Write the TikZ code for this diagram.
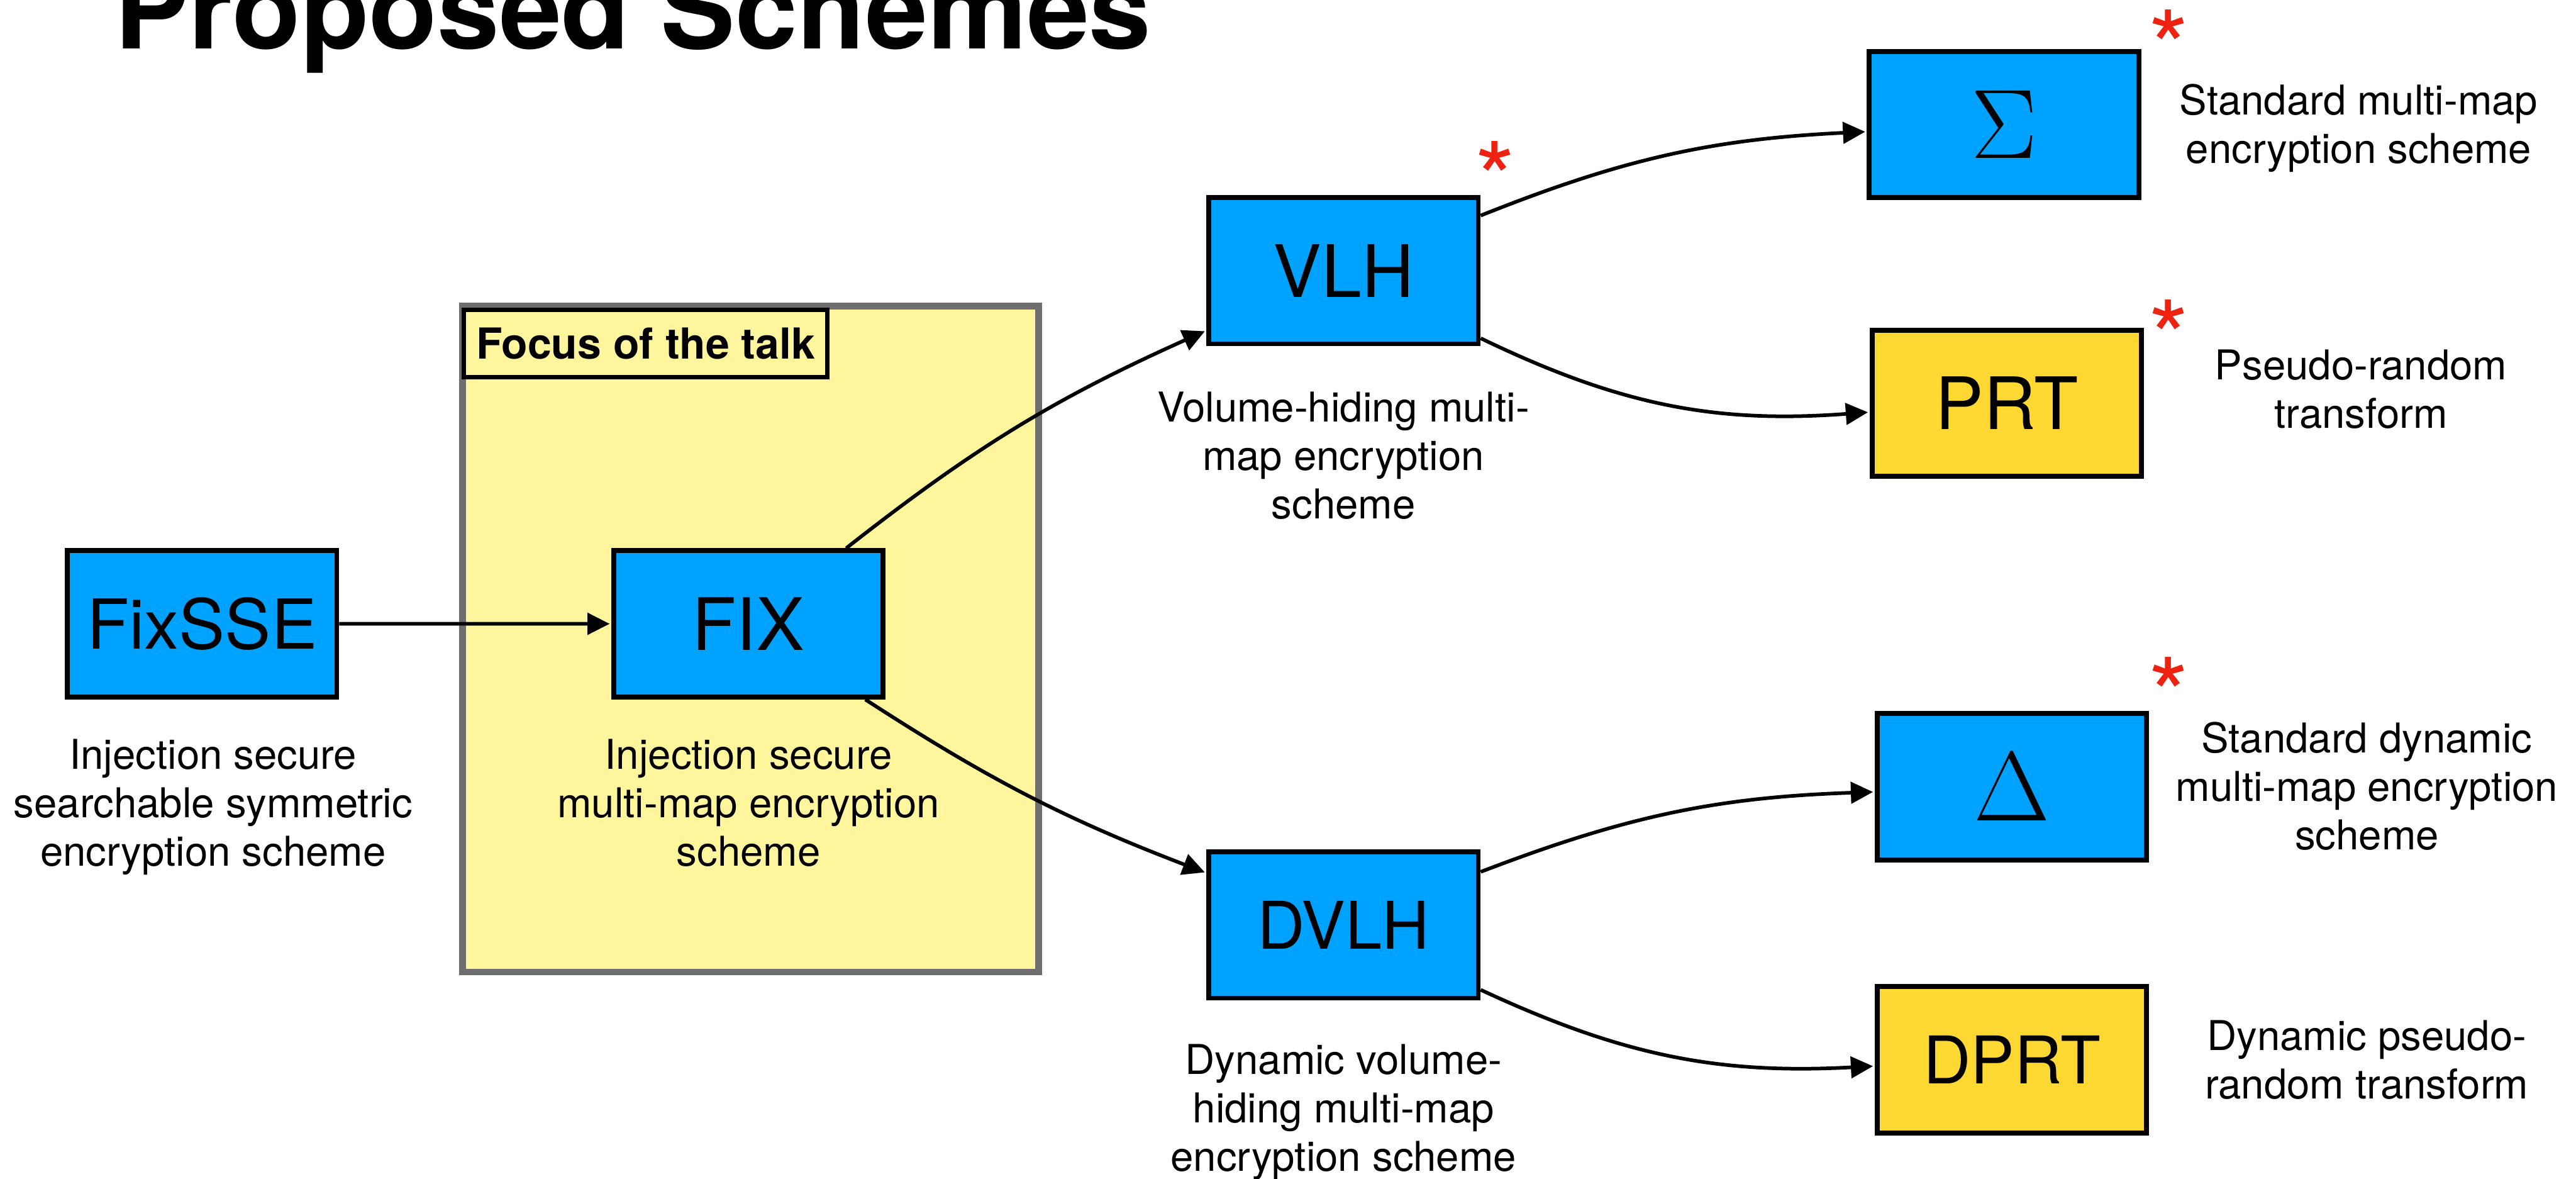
\RequirePackage{fix-cm}
\documentclass[tikz,border=0pt]{standalone}
\usepackage{fontspec}
\setmainfont{TeX Gyre Heros}
\usetikzlibrary{arrows.meta}

\begin{document}
\begin{tikzpicture}[yscale=-1, x=1pt, y=1pt, line join=miter,
  scheme/.style={draw=black, line width=3pt, minimum width=164pt, minimum height=89pt, inner sep=0pt, font=\fontsize{44}{52}\selectfont},
  blue box/.style={scheme, fill=schemeblue},
  gold box/.style={scheme, fill=schemegold},
  caption/.style={align=center, anchor=base, inner sep=0pt, font=\fontsize{25}{29.5}\selectfont},
  redmark/.style={anchor=base, inner sep=0pt, text=markred, font=\fontsize{63}{70}\selectfont},
  link/.style={line width=2.2pt, -{Triangle[length=13.5pt,width=13pt]}, shorten >=1pt}]
% Color definitions
\definecolor{schemeblue}{RGB}{0,162,255}
\definecolor{schemegold}{RGB}{254,216,50}
\definecolor{focusyellow}{RGB}{255,245,157}
\definecolor{framegray}{RGB}{110,110,110}
\definecolor{markred}{RGB}{238,34,17}
% End of color definitions
\useasboundingbox (0,0) rectangle (1568,717.3);
\node[anchor=base west, inner sep=0pt, font=\fontsize{68}{80}\selectfont\bfseries] (title) at (69.5,29.8) {Proposed Schemes};
% focus of the talk
\filldraw[draw=framegray, fill=focusyellow, line width=4pt] (281.6,186.3) rectangle (632.2,591.5);
\node[draw=black, fill=focusyellow, line width=2.8pt, minimum width=221.2pt, minimum height=40.8pt, inner sep=0pt, font=\fontsize{26}{30}\selectfont\bfseries] (focus) at (393,209) {Focus of the talk};
% schemes
\node[blue box, font=\fontsize{42}{50}\selectfont] (fixsse) at (123,379.5) {FixSSE};
\node[blue box] (fix) at (455.6,379.6) {FIX};
\node[blue box] (vlh) at (817.8,164.7) {VLH};
\node[blue box, font=\fontsize{40}{48}\selectfont] (dvlh) at (817.8,562.8) {DVLH};
\node[blue box, font=\fontsize{60}{72}\selectfont] (sigma) at (1219.8,75.8) {$\Sigma$};
\node[gold box] (prt) at (1221.5,245.4) {PRT};
\node[blue box, font=\fontsize{60}{72}\selectfont] (delta) at (1224.6,478.7) {$\Delta$};
\node[gold box, font=\fontsize{40}{48}\selectfont] (dprt) at (1224.6,644.9) {DPRT};
% captions (base is the last line)
\node[caption] (fixsse-txt) at (129.7,526.9) {Injection secure\\searchable symmetric\\encryption scheme};
\node[caption] (fix-txt) at (455.6,527) {Injection secure\\multi-map encryption\\scheme};
\node[caption] (vlh-txt) at (817.7,315.6) {Volume-hiding multi-\\map encryption\\scheme};
\node[caption] (dvlh-txt) at (817.8,712.5) {Dynamic volume-\\hiding multi-map\\encryption scheme};
\node[caption] (sigma-txt) at (1435.7,99.2) {Standard multi-map\\encryption scheme};
\node[caption] (prt-txt) at (1437.1,260.5) {Pseudo-random\\transform};
\node[caption] (delta-txt) at (1440.7,517) {Standard dynamic\\multi-map encryption\\scheme};
\node[caption] (dprt-txt) at (1440.6,668.6) {Dynamic pseudo-\\random transform};
% red marks
\node[redmark] (vlh-mark) at (910.1,132) {*};
\node[redmark] (sigma-mark) at (1320.2,52) {*};
\node[redmark] (prt-mark) at (1320.2,228.4) {*};
\node[redmark] (delta-mark) at (1320.2,445.8) {*};
% connectors (yscale=-1 swaps left and right)
\draw[link] (fixsse) -- (fix);
\draw[link] (fix) to[bend right=7] (vlh);
\draw[link] (fix) to[bend left=6] (dvlh);
\draw[link] (vlh) to[bend right=9.5] (sigma);
\draw[link] (vlh) to[bend left=15] (prt);
\draw[link] (dvlh) to[bend right=9.5] (delta);
\draw[link] (dvlh) to[bend left=14] (dprt);
\end{tikzpicture}
\end{document}
